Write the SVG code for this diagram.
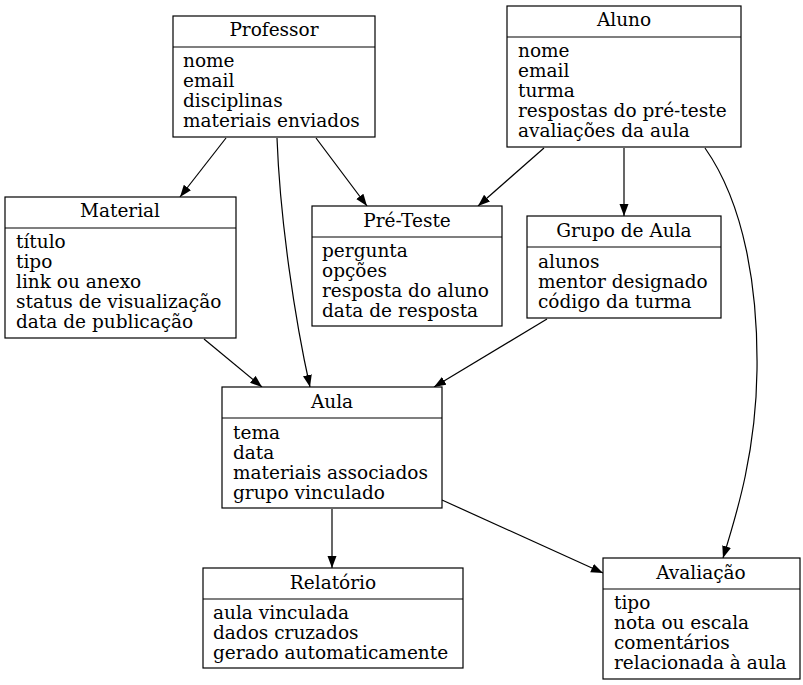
<svg xmlns="http://www.w3.org/2000/svg" width="803" height="685" viewBox="0 0 803 685">
<defs>
<marker id="arr" markerUnits="userSpaceOnUse" markerWidth="14" markerHeight="10" refX="12" refY="5" orient="auto">
<path d="M0,0.5 L12,5 L0,9.5 Z" fill="#000"/>
</marker>
<style>
.box{fill:#fff;stroke:#000;stroke-width:1.2}
.div{stroke:#000;stroke-width:1.2}
text{font-family:"DejaVu Serif",serif;font-size:18.5px;fill:#000}
.t{text-anchor:middle}
.e{fill:none;stroke:#000;stroke-width:1.2;marker-end:url(#arr)}
</style>
</defs>
<rect width="803" height="685" fill="#fff"/>
<g id="connectors">
<path class="e" d="M226,138 L180,197"/>
<path class="e" d="M277,138 C280,220 295,320 310,387"/>
<path class="e" d="M316,138 L367,206"/>
<path class="e" d="M544,148 L478,206"/>
<path class="e" d="M624,148 L624,216"/>
<path class="e" d="M705,148 C745,205 758,290 757,370 C756,450 738,510 723,558"/>
<path class="e" d="M204,339 L262,387"/>
<path class="e" d="M547,319 L434,387"/>
<path class="e" d="M332,509 L332,568"/>
<path class="e" d="M442,500 L603,573"/>
</g>
<g id="professor">
<rect class="box" x="173" y="16" width="202" height="121"/>
<line class="div" x1="173" y1="47" x2="375" y2="47"/>
<text class="t" x="274" y="36">Professor</text>
<text x="183" y="67">nome</text>
<text x="183" y="87">email</text>
<text x="183" y="107">disciplinas</text>
<text x="183" y="127">materiais enviados</text>
</g>
<g id="aluno">
<rect class="box" x="507" y="6" width="234" height="141"/>
<line class="div" x1="507" y1="37" x2="741" y2="37"/>
<text class="t" x="624" y="26">Aluno</text>
<text x="518" y="57">nome</text>
<text x="518" y="77">email</text>
<text x="518" y="97">turma</text>
<text x="518" y="117">respostas do pré-teste</text>
<text x="518" y="137">avaliações da aula</text>
</g>
<g id="material">
<rect class="box" x="5" y="197" width="231" height="141"/>
<line class="div" x1="5" y1="228" x2="236" y2="228"/>
<text class="t" x="120" y="217">Material</text>
<text x="16" y="248">título</text>
<text x="16" y="268">tipo</text>
<text x="16" y="288">link ou anexo</text>
<text x="16" y="308">status de visualização</text>
<text x="16" y="328">data de publicação</text>
</g>
<g id="preteste">
<rect class="box" x="312" y="206" width="190" height="120"/>
<line class="div" x1="312" y1="237" x2="502" y2="237"/>
<text class="t" x="407" y="227">Pré-Teste</text>
<text x="322" y="257">pergunta</text>
<text x="322" y="277">opções</text>
<text x="322" y="297">resposta do aluno</text>
<text x="322" y="317">data de resposta</text>
</g>
<g id="grupo">
<rect class="box" x="527" y="216" width="194" height="102"/>
<line class="div" x1="527" y1="247" x2="721" y2="247"/>
<text class="t" x="624" y="237">Grupo de Aula</text>
<text x="538" y="268">alunos</text>
<text x="538" y="288">mentor designado</text>
<text x="538" y="308">código da turma</text>
</g>
<g id="aula">
<rect class="box" x="222" y="387" width="220" height="121"/>
<line class="div" x1="222" y1="418" x2="442" y2="418"/>
<text class="t" x="332" y="408">Aula</text>
<text x="233" y="439">tema</text>
<text x="233" y="459">data</text>
<text x="233" y="479">materiais associados</text>
<text x="233" y="499">grupo vinculado</text>
</g>
<g id="relatorio">
<rect class="box" x="203" y="568" width="260" height="100"/>
<line class="div" x1="203" y1="599" x2="463" y2="599"/>
<text class="t" x="333" y="589">Relatório</text>
<text x="213" y="619">aula vinculada</text>
<text x="213" y="639">dados cruzados</text>
<text x="213" y="659">gerado automaticamente</text>
</g>
<g id="avaliacao">
<rect class="box" x="603" y="558" width="197" height="121"/>
<line class="div" x1="603" y1="589" x2="800" y2="589"/>
<text class="t" x="701" y="579">Avaliação</text>
<text x="614" y="609">tipo</text>
<text x="614" y="629">nota ou escala</text>
<text x="614" y="649">comentários</text>
<text x="614" y="669">relacionada à aula</text>
</g>
</svg>
